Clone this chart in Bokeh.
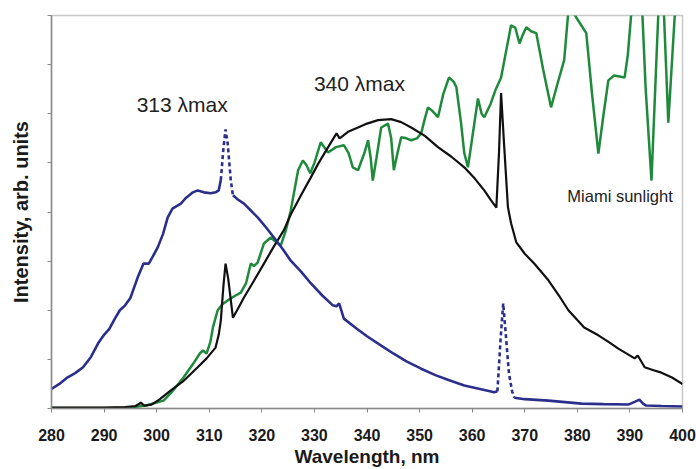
import numpy as np
from bokeh.plotting import figure
from bokeh.models import Range1d, FixedTicker, Label, CustomJSTickFormatter, Title
from bokeh.embed import file_html
from bokeh.resources import INLINE

# ---------------- data ----------------
x_ticks = [280, 290, 300, 310, 320, 330, 340, 350, 360, 370, 380, 390, 400]
y_ticks = [0, 1, 2, 3, 4, 5, 6, 7, 8]

# 313 nm lamp (blue)
blue_wl = [280, 281.5, 283, 284.5, 286, 287.5, 289, 290, 291, 292, 293, 294, 295,
           296.4, 297.5, 298.5, 299.3, 300.2, 301.2, 302.1, 303, 304.6, 305.5,
           306.9, 307.8, 309, 310.3, 311.2, 311.8,
           312.2, 312.7, 313.1, 313.5, 314.1, 314.5,
           315.5, 316.6, 318, 319.2, 320.7, 322.3, 324, 325.5, 327.5, 329.3,
           331.5, 333.5, 334.2, 334.7, 335.6, 338, 340, 342.7, 345, 347.5, 350.3,
           353, 355.5, 358.5, 361.7, 364.2, 364.8,
           365.4, 365.9, 366.4, 367, 367.6, 368,
           370, 374.5, 380.8, 385, 389.7, 391, 391.8, 392.5, 393.1, 396, 400]
blue_val = [0.40, 0.50, 0.63, 0.72, 0.84, 1.05, 1.35, 1.50, 1.62, 1.82, 2.00, 2.10, 2.25,
            2.67, 2.95, 2.95, 3.10, 3.28, 3.55, 3.89, 4.07, 4.17, 4.28,
            4.40, 4.44, 4.40, 4.38, 4.40, 4.44,
            4.65, 5.30, 5.68, 5.40, 4.64, 4.34,
            4.25, 4.17, 4.02, 3.89, 3.70, 3.48, 3.24, 3.01, 2.78, 2.55,
            2.30, 2.10, 2.08, 2.14, 1.83, 1.63, 1.47, 1.28, 1.12, 0.96, 0.81,
            0.68, 0.58, 0.47, 0.39, 0.33, 0.35,
            1.40, 2.14, 1.50, 0.71, 0.35, 0.22,
            0.19, 0.16, 0.10, 0.09, 0.08, 0.14, 0.18, 0.10, 0.06, 0.05, 0.04]
blue_dashed_ranges = [(312.2, 314.5), (364.8, 368.0)]

# 340 nm lamp (black)
black_wl = [280, 285, 290, 294, 296, 297, 297.6, 299, 300.5, 302.7, 305, 307.8, 309.5,
            311.2, 311.8, 312.2, 312.7, 313.1, 313.6, 314.5, 315.3, 316.6, 318.5,
            320.4, 322.3, 324.2, 325.5, 327.5, 329.3, 330.7, 332.5, 334.2, 334.8,
            336.5, 338.3, 340, 342.1, 344.6, 346.5, 348.4, 351, 353.5, 356, 358.5,
            360.5, 362.3, 363.5, 364.6, 365.1, 365.5, 366, 366.8, 367.4, 368.4, 370,
            371.8, 374.5, 376.5, 378.3, 380, 381.3, 384, 386, 387.8, 390.9, 391.5,
            392.8, 394.5, 396, 398, 400]
black_val = [0.02, 0.02, 0.02, 0.03, 0.05, 0.12, 0.06, 0.08, 0.18, 0.37, 0.55, 0.84, 1.02,
             1.24, 1.50, 1.79, 2.50, 2.95, 2.65, 1.85, 2.00, 2.26, 2.60,
             2.95, 3.30, 3.63, 3.95, 4.35, 4.70, 4.98, 5.30, 5.60, 5.50,
             5.64, 5.72, 5.80, 5.87, 5.89, 5.83, 5.72, 5.55, 5.32, 5.13, 4.91,
             4.68, 4.44, 4.25, 4.09, 5.20, 6.42, 5.50, 4.10, 3.77, 3.38, 3.15,
             2.95, 2.61, 2.30, 2.00, 1.80, 1.65, 1.49, 1.35, 1.22, 1.02, 1.08,
             0.84, 0.78, 0.73, 0.63, 0.50]

# Miami sunlight (green)
green_wl = [280, 290, 295, 298, 301.3, 303, 305.1, 307, 308.2, 308.8, 309.5, 310.2, 310.7,
            311.6, 312.5, 313.5, 315, 316, 317, 317.9, 318.5, 319.2, 320.4, 321.7, 322.6,
            323.6, 324.5, 325.5, 326.9, 327.8, 328.5, 329.2, 330, 331.2, 332.6, 334.1,
            335.6, 336.5, 337.3, 338.3, 339.5, 340.2, 340.7, 341.1, 341.8, 342.7, 344,
            344.6, 345.1, 345.8, 346.5, 347.5, 348.4, 349.5, 350.3, 351, 351.6, 352.5,
            353.5, 354.5, 355.6, 356.5, 357, 357.9, 358.5, 359.2, 360, 361.1, 361.8,
            362.3, 363.5, 364.5, 365.5, 366.5, 367.4, 368.2, 369, 369.6, 370.3, 371.2,
            372.2, 373.5, 375, 376.2, 377.5, 378.3, 378.8, 379.3, 379.8, 381.7, 382.8,
            384, 385, 385.9, 387, 389, 389.6, 390.3, 391.3, 392.3, 393, 394.1, 395,
            395.7, 396.3, 397.3, 398.5, 400]
green_val = [0.01, 0.01, 0.02, 0.06, 0.16, 0.35, 0.63, 0.92, 1.12, 1.18, 1.12, 1.35, 1.65,
             2.00, 2.12, 2.20, 2.30, 2.36, 2.55, 2.95, 2.90, 2.97, 3.36, 3.48, 3.40,
             3.32, 3.60, 4.03, 4.85, 5.05, 4.95, 4.79, 5.00, 5.42, 5.21, 5.32,
             5.36, 5.20, 4.91, 4.85, 5.20, 5.46, 5.10, 4.64, 5.10, 5.72, 5.80,
             5.50, 4.85, 5.20, 5.52, 5.50, 5.46, 5.50, 5.60, 5.90, 6.13, 6.05,
             5.93, 6.40, 6.74, 6.65, 6.54, 5.80, 5.20, 4.91, 5.50, 6.31, 6.00,
             5.93, 6.20, 6.50, 6.74, 7.30, 7.80, 7.75, 7.43, 7.60, 7.76, 7.68,
             7.64, 6.90, 6.13, 6.60, 7.09, 8.10, 8.25, 8.05, 7.96, 7.64, 6.40,
             5.19, 6.00, 6.68, 6.78, 6.74, 7.20, 8.10, 9.50, 8.20, 6.50, 4.64, 7.00,
             8.80, 8.50, 5.82, 7.96, 9.00]

label_313 = "313 \u03bbmax"
label_340 = "340 \u03bbmax"
label_sun = "Miami sunlight"
x_title = "Wavelength, nm"
y_title = "Intensity, arb. units"

# ---------------- figure ----------------
FONT = "Liberation Sans"
p = figure(width=696, height=469, output_backend="svg", toolbar_location=None,
           x_range=Range1d(280, 400), y_range=Range1d(0, 8),
           min_border_left=51, min_border_right=14, min_border_top=15,
           min_border_bottom=61)
p.grid.visible = False
p.outline_line_color = "#c8c8c8"
p.outline_line_width = 1.5

ax = p.xaxis[0]
ax.ticker = FixedTicker(ticks=x_ticks)
ax.minor_tick_line_color = None
ax.major_tick_in = 0
ax.major_tick_out = 4
ax.axis_line_color = "#8a8a8a"
ax.axis_line_width = 1.5
ax.major_tick_line_color = "#8a8a8a"
ax.major_label_text_font = FONT
ax.major_label_text_font_style = "bold"
ax.major_label_text_font_size = "16px"
ax.major_label_text_color = "#1a1a1a"
ax.major_label_standoff = 16

ay = p.yaxis[0]
ay.ticker = FixedTicker(ticks=y_ticks)
ay.formatter = CustomJSTickFormatter(code="return ''")
ay.minor_tick_line_color = None
ay.major_tick_in = 0
ay.major_tick_out = 4
ay.axis_line_color = "#8a8a8a"
ay.axis_line_width = 1.5
ay.major_tick_line_color = "#8a8a8a"
ay.major_label_standoff = 0
ay.axis_label = y_title
ay.axis_label_text_font = FONT
ay.axis_label_text_font_style = "bold"
ay.axis_label_text_font_size = "20px"
ay.axis_label_text_color = "#1a1a1a"
ay.axis_label_standoff = 16

# x-axis title as a title panel below the axis
p.add_layout(Title(text=x_title, align="center", text_font=FONT,
                   text_font_size="19px", text_font_style="bold",
                   text_color="#1a1a1a", standoff=0, offset=2), "below")

# green: sunlight
p.line(green_wl, green_val, line_color="#1f8a3c", line_width=2.5)
# black: 340 lamp
p.line(black_wl, black_val, line_color="#111111", line_width=2.2)

# blue: 313 lamp, solid except for dashed emission peaks
bw = np.array(blue_wl, dtype=float)
bv = np.array(blue_val, dtype=float)
edges = [280.0] + [v for r in blue_dashed_ranges for v in r] + [400.0]
for i in range(0, len(edges), 2):
    lo, hi = edges[i], edges[i + 1]
    m = (bw >= lo) & (bw <= hi)
    p.line(bw[m], bv[m], line_color="#2b2f8c", line_width=2.6)
for lo, hi in blue_dashed_ranges:
    m = (bw >= lo) & (bw <= hi)
    p.line(bw[m], bv[m], line_color="#2b2f8c", line_width=2.6, line_dash="4 3")

# annotations
for txt, x, y, size in [(label_313, 296.2, 6.19, "21px"),
                        (label_340, 329.9, 6.62, "21px"),
                        (label_sun, 378.1, 4.32, "16.5px")]:
    p.add_layout(Label(x=x, y=y, text=txt, text_font=FONT, text_font_size=size,
                       text_color="#222222", text_baseline="alphabetic"))

open("out.html", "w").write(file_html(p, INLINE))
